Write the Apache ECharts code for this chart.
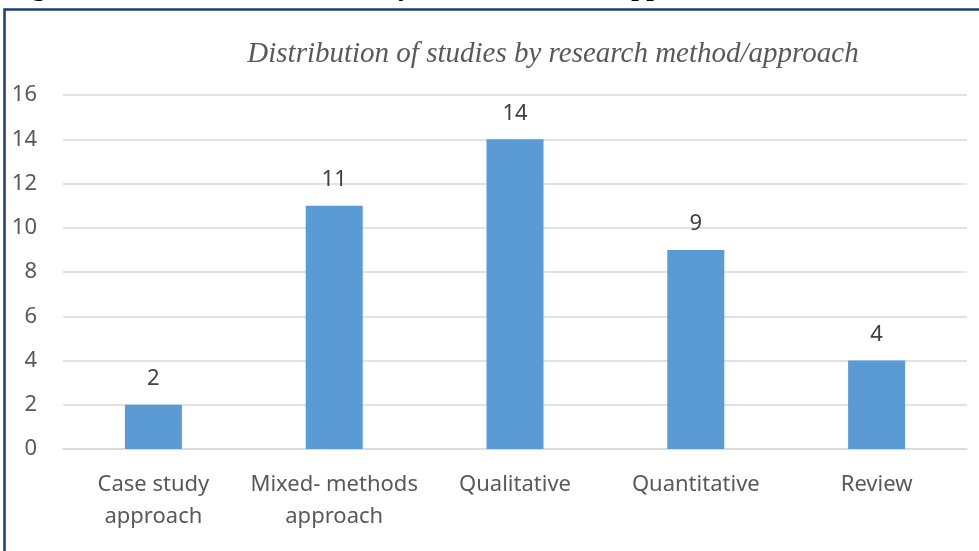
<!DOCTYPE html>
<html>
<head>
<meta charset="utf-8">
<script src="https://cdn.jsdelivr.net/npm/echarts@6/dist/echarts.min.js"></script>
<style>
  html, body { margin: 0; padding: 0; background: #fff; }
  #chart { width: 979px; height: 551px; }
</style>
</head>
<body>
<div id="chart"></div>
<script>
// data
const categories = ['Case study\napproach', 'Mixed- methods\napproach', 'Qualitative', 'Quantitative', 'Review']
const studyCounts = [2, 11, 14, 9, 4]
const yTicks = { min: 0, max: 16, interval: 2 }

const figureCaption = 'Figure 3: Distribution of studies by research method/approach'
const chartTitle = 'Distribution of studies by research method/approach'

const textColor = '#595959'
const gridColor = '#D9D9D9'
const barColor = '#5B9BD5'

const chart = echarts.init(document.getElementById('chart'))

chart.setOption({
  animation: false,
  backgroundColor: '#fff',
  graphic: [
    {
      // caption of the page, mostly cut off at the top
      type: 'text',
      x: 8,
      y: -25.5,
      style: {
        text: figureCaption,
        fontFamily: 'Liberation Serif',
        fontWeight: 'bold',
        fontSize: 27,
        fill: '#000'
      }
    },
    {
      // frame around the chart
      type: 'rect',
      shape: { x: 4.5, y: 9.5, width: 1000, height: 600 },
      style: { fill: 'none', stroke: '#1F3B73', lineWidth: 2.5 }
    }
  ],
  title: {
    text: chartTitle,
    left: 548,
    top: 35,
    textAlign: 'center',
    textStyle: {
      fontFamily: 'Liberation Serif',
      fontStyle: 'italic',
      fontWeight: 'normal',
      fontSize: 29,
      color: textColor
    }
  },
  grid: {
    left: 63,
    right: 12,
    top: 95,
    bottom: 102
  },
  xAxis: {
    type: 'category',
    data: categories,
    axisLine: { show: true, lineStyle: { color: gridColor, width: 1.5 } },
    axisTick: { show: false },
    axisLabel: {
      color: textColor,
      fontFamily: 'Noto Sans',
      fontSize: 22,
      lineHeight: 32,
      margin: 20,
      interval: 0
    }
  },
  yAxis: {
    type: 'value',
    min: yTicks.min,
    max: yTicks.max,
    interval: yTicks.interval,
    axisLine: { show: false },
    axisTick: { show: false },
    axisLabel: {
      color: textColor,
      fontFamily: 'Noto Sans',
      fontSize: 22,
      margin: 26
    },
    splitLine: {
      lineStyle: { color: gridColor, width: 1.5 }
    }
  },
  series: [
    {
      type: 'bar',
      data: studyCounts,
      barWidth: 57,
      itemStyle: { color: barColor },
      label: {
        show: true,
        position: 'top',
        distance: 15,
        color: '#404040',
        fontFamily: 'Noto Sans',
        fontSize: 22
      }
    }
  ]
})
</script>
</body>
</html>
